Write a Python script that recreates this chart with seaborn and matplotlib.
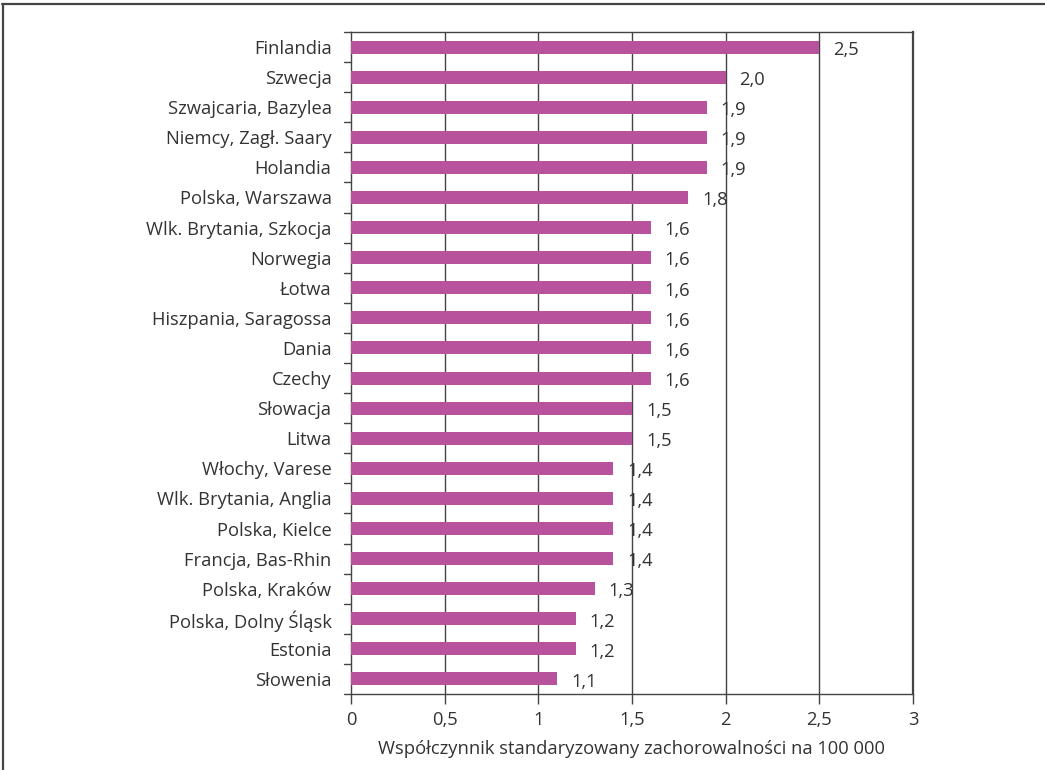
import matplotlib
matplotlib.use("Agg")
import matplotlib.pyplot as plt
from matplotlib.lines import Line2D
import seaborn as sns
import pandas as pd

categories = ["Finlandia", "Szwecja", "Szwajcaria, Bazylea", "Niemcy, Zagł. Saary",
              "Holandia", "Polska, Warszawa", "Wlk. Brytania, Szkocja", "Norwegia",
              "Łotwa", "Hiszpania, Saragossa", "Dania", "Czechy", "Słowacja", "Litwa",
              "Włochy, Varese", "Wlk. Brytania, Anglia", "Polska, Kielce",
              "Francja, Bas-Rhin", "Polska, Kraków", "Polska, Dolny Śląsk",
              "Estonia", "Słowenia"]
values = [2.5, 2.0, 1.9, 1.9, 1.9, 1.8, 1.6, 1.6, 1.6, 1.6, 1.6, 1.6, 1.5, 1.5,
          1.4, 1.4, 1.4, 1.4, 1.3, 1.2, 1.2, 1.1]
xticks = [0, 0.5, 1, 1.5, 2, 2.5, 3]
xticklabels = ["0", "0,5", "1", "1,5", "2", "2,5", "3"]
xlabel = "Współczynnik standaryzowany zachorowalności na 100 000"

sns.set_theme(style="white")
plt.rcParams['font.family'] = ['Open Sans', 'DejaVu Sans']
text_color = "#333333"
fs = 13.2

df = pd.DataFrame({"kraj": categories, "wartosc": values})

fig = plt.figure(figsize=(10.45, 7.7), dpi=100)
ax = fig.add_axes([351/1045, 1 - 694/770, (913-351)/1045, (694-32)/770])

sns.barplot(data=df, y="kraj", x="wartosc", orient="h", color="#b8529c",
            saturation=1, width=0.43, linewidth=0, ax=ax, zorder=3)

ax.set_xlim(0, 3)
ax.set_ylim(len(categories) - 0.5, -0.5)
ax.set_xticks(xticks)
ax.set_xticklabels(xticklabels, fontsize=fs, color=text_color)
ax.tick_params(axis="x", length=7, width=1, color="#444444", pad=5, direction="out", bottom=True)
ax.tick_params(axis="y", length=0, labelsize=fs, labelcolor=text_color, pad=14)
for x in xticks[1:-1]:
    ax.axvline(x, color="#444444", lw=1, zorder=0)
# category boundary ticks on the y axis
for i in range(len(categories) + 1):
    ax.add_line(Line2D([-0.013, 0], [i - 0.5, i - 0.5], color="#444444", lw=1,
                       transform=ax.get_yaxis_transform(), clip_on=False))
for s in ax.spines.values():
    s.set_visible(True)
    s.set_color("#444444")
    s.set_linewidth(1)
ax.spines["right"].set_linewidth(1.6)

ax.set_ylabel("")
ax.set_xlabel(xlabel, fontsize=fs, color=text_color, labelpad=8)

for c in ax.containers:
    texts = ax.bar_label(c, labels=[f"{v:.1f}".replace(".", ",") for v in values],
                         padding=10, fontsize=fs, color=text_color)
    for t in texts:
        t.xyann = (t.xyann[0], -2)

# figure frame (top and left)
fig.add_artist(Line2D([2/1045, 1], [1 - 4/770, 1 - 4/770], color="#444444", lw=1.6,
                      transform=fig.transFigure))
fig.add_artist(Line2D([2.5/1045, 2.5/1045], [0, 1 - 4/770], color="#444444", lw=1.6,
                      transform=fig.transFigure))

fig.savefig("out.png", dpi=100)
